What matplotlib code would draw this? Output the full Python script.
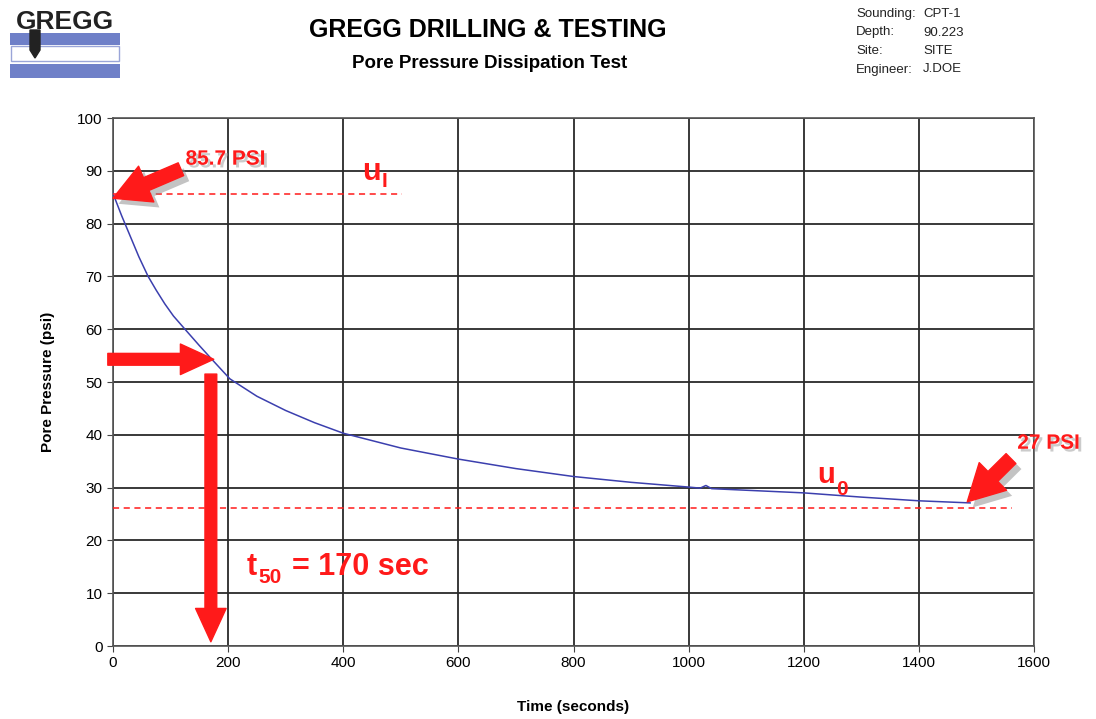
import matplotlib
matplotlib.use("Agg")
import matplotlib.pyplot as plt
import matplotlib.patheffects as pe
from matplotlib.patches import Rectangle, Polygon, FancyArrowPatch

plt.rcParams['font.family'] = ['Liberation Sans', 'DejaVu Sans']

# dissipation record
time_s = [0, 15, 30, 45, 61, 75, 90, 105, 125, 150, 170, 203, 250, 300, 350, 400,
          500, 600, 700, 800, 900, 1000, 1020, 1030, 1040, 1100, 1160, 1200,
          1300, 1400, 1489]
pressure_psi = [85.7, 81.5, 77.6, 73.7, 70.0, 67.4, 64.8, 62.5, 60.0, 56.9, 54.5, 50.6,
                47.3, 44.6, 42.3, 40.3, 37.5, 35.4, 33.6, 32.1, 31.0, 30.1, 29.9,
                30.4, 29.8, 29.5, 29.2, 29.0, 28.2, 27.5, 27.1]

u_i = 85.7
u_0 = 26.1
t50 = 170
p50 = 54.3

x_ticks = list(range(0, 1601, 200))
y_ticks = list(range(0, 101, 10))

info_keys = ['Sounding:', 'Depth:', 'Site:', 'Engineer:']
info_vals = ['CPT-1', '90.223', 'SITE', 'J.DOE']

RED = '#ff1a1a'

fig = plt.figure(figsize=(10.96, 7.19), dpi=100)
ax = fig.add_axes([113/1096, 1 - 646/719, (1034 - 113)/1096, (646 - 118)/719])

ax.plot(time_s, pressure_psi, color='#3b3fae', linewidth=1.1, zorder=3)

ax.set_xlim(0, 1600)
ax.set_ylim(0, 100)
ax.set_xticks(x_ticks)
ax.set_yticks(y_ticks)
ax.tick_params(labelsize=11, length=4, color='#444444')
ax.grid(True, color='#2a2a2a', linewidth=1.3)
for s in ax.spines.values():
    s.set_color('#555555')
    s.set_linewidth(1.2)
ax.set_xlabel('Time (seconds)', fontsize=11, fontweight='bold', labelpad=21)
ax.set_ylabel('Pore Pressure (psi)', fontsize=11, fontweight='bold', labelpad=16)

# reference lines
ax.plot([0, 502], [u_i, u_i], color=RED, linestyle=(0, (4, 3)), linewidth=1.1, zorder=4)
ax.plot([0, 1562], [u_0, u_0], color=RED, linestyle=(0, (4, 3)), linewidth=1.1, zorder=4)

shadow = [pe.SimplePatchShadow(offset=(4, -4), shadow_rgbFace='#888888', alpha=0.5), pe.Normal()]


def arrow(tail, tip, tail_w, head_w, head_l, fx=False):
    a = FancyArrowPatch(tail, tip, arrowstyle=f'simple,tail_width={tail_w},head_width={head_w},head_length={head_l}',
                        mutation_scale=10, color=RED, clip_on=False, zorder=6,
                        shrinkA=0, shrinkB=0)
    if fx:
        a.set_path_effects(shadow)
    ax.add_patch(a)


arrow((-9, p50), (t50 + 5, p50), 0.85, 2.2, 2.4)
arrow((t50, 51.5), (t50, 0.8), 0.85, 2.2, 2.4)
arrow((118, 90.3), (0, 84.8), 1.0, 2.8, 2.6, fx=True)
arrow((1560, 35.5), (1484, 27.3), 1.0, 2.8, 2.6, fx=True)

tshadow = [pe.withSimplePatchShadow(offset=(2, -2), shadow_rgbFace='#999999', alpha=0.5)]
ax.text(126, 92.2, '85.7 PSI', color=RED, fontsize=15, fontweight='bold',
        va='center', ha='left', path_effects=tshadow, zorder=7)
ax.text(1571, 38.4, '27 PSI', color=RED, fontsize=15, fontweight='bold',
        va='center', ha='left', path_effects=tshadow, zorder=7, clip_on=False)


# text piece placed right after another one; y is a data baseline
def after(prev, y, s, size, gap=1):
    return ax.annotate(s, xy=(1, y), xycoords=(prev, 'data'), xytext=(gap, 0),
                       textcoords='offset points', color=RED, fontsize=size,
                       fontweight='bold', ha='left', va='baseline', zorder=7)


def bold(x, y, s, size):
    return ax.text(x, y, s, color=RED, fontsize=size, fontweight='bold',
                   ha='left', va='baseline', zorder=7)


after(bold(432, 88.3, 'u', 22), 86.9, 'I', 15)
after(bold(1223, 30.9, 'u', 21), 28.6, '0', 15)
s50 = after(bold(233, 13.4, 't', 22), 11.9, '50', 15)
after(s50, 13.4, '= 170 sec', 22, gap=7)

# header
fig.text(488/1096, 1 - 30/719, 'GREGG DRILLING & TESTING', fontsize=18, fontweight='bold',
         ha='center', va='center')
fig.text(490/1096, 1 - 64/719, 'Pore Pressure Dissipation Test', fontsize=13.5, fontweight='bold',
         ha='center', va='center')
for i, (k, v) in enumerate(zip(info_keys, info_vals)):
    y = 1 - (14 + i * 18.5) / 719
    fig.text(856/1096, y, k, fontsize=9.5, ha='left', va='center', color='#222222')
    fig.text(923/1096, y, v, fontsize=9.5, ha='left', va='center', color='#222222')

# logo
W, H = 1096, 719
blue = '#6f80c8'
fig.patches.append(Rectangle((10/W, 1 - 45/H), 110/W, 12/H, transform=fig.transFigure,
                             facecolor=blue, edgecolor='none'))
fig.patches.append(Rectangle((11/W, 1 - 61/H), 108/W, 15/H, transform=fig.transFigure,
                             facecolor='white', edgecolor='#9aa5d8', linewidth=1))
fig.patches.append(Rectangle((10/W, 1 - 78/H), 110/W, 14/H, transform=fig.transFigure,
                             facecolor=blue, edgecolor='none'))
bit = [(30/W, 1 - 30/H), (40/W, 1 - 30/H), (40/W, 1 - 50/H), (35/W, 1 - 58/H), (30/W, 1 - 50/H)]
fig.patches.append(Polygon(bit, closed=True, transform=fig.transFigure, facecolor='#222222',
                           edgecolor='#222222'))
fig.text(65/W, 1 - 22/H, 'GREGG', fontsize=19, fontweight='bold', ha='center', va='center',
         color='#222222')

fig.savefig('out.png', dpi=100)
